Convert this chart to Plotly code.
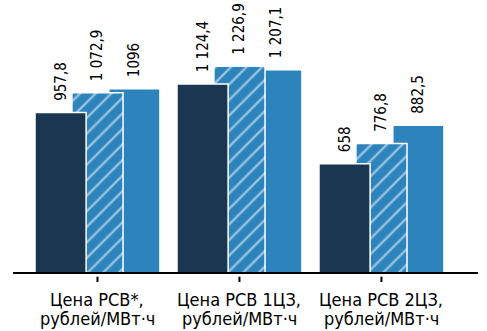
import plotly.graph_objects as go

categories = ["Цена РСВ*", "Цена РСВ 1ЦЗ", "Цена РСВ 2ЦЗ"]
label_line1 = ["Цена РСВ*,", "Цена РСВ 1ЦЗ,", "Цена РСВ 2ЦЗ,"]
label_line2 = ["рублей/МВт·ч", "рублей/МВт·ч", "рублей/МВт·ч"]

series_a = [957.8, 1124.4, 658.0]      # dark
series_b = [1072.9, 1226.9, 776.8]     # hatched
series_c = [1096.0, 1207.1, 882.5]     # solid blue

labels_a = ["957,8", "1 124,4", "658"]
labels_b = ["1 072,9", "1 226,9", "776,8"]
labels_c = ["1096", "1 207,1", "882,5"]

DARK = "#1b3650"
BLUE = "#2d84bd"
FONT = "Liberation Sans Narrow, DejaVu Sans Condensed, Arial Narrow, sans-serif"

W = 0.36
PAD = "\u00a0\u00a0"

def bar(vals, labels, color, offset, pattern=None):
    marker = dict(color=color, line=dict(color="white", width=1.5))
    if pattern:
        marker["pattern"] = pattern
    return go.Bar(
        x=categories, y=vals, width=W, offset=offset,
        marker=marker,
        text=[PAD + t for t in labels], textposition="outside", textangle=-90,
        textfont=dict(family=FONT, size=15, color="black"),
        cliponaxis=False, constraintext="none", showlegend=False,
        hoverinfo="skip",
    )

fig = go.Figure()
# order: solid behind, hatched middle, dark front
fig.add_trace(bar(series_c, labels_c, BLUE, 0.08))
fig.add_trace(bar(series_b, labels_b, BLUE, -0.18,
                  pattern=dict(shape="/", fgcolor="white", bgcolor=BLUE,
                               size=11, solidity=0.22, fillmode="overlay")))
fig.add_trace(bar(series_a, labels_a, DARK, -0.44))

xr = [-0.595, 2.68]
# small category tick marks (paper coords derived from the category axis range)
tick_shapes = [dict(type="line", xref="paper", yref="paper",
                    x0=(i - xr[0]) / (xr[1] - xr[0]),
                    x1=(i - xr[0]) / (xr[1] - xr[0]),
                    y0=-0.0176, y1=-0.0375,
                    line=dict(color="black", width=2))
               for i in range(len(categories))]

fig.update_layout(
    width=487, height=331,
    margin=dict(l=13, r=9, t=5, b=59),
    paper_bgcolor="white", plot_bgcolor="white",
    barmode="overlay",
    xaxis=dict(type="category", range=xr, showline=True, linecolor="black",
               linewidth=2, showticklabels=False, ticks="",
               showgrid=False, zeroline=False),
    yaxis=dict(range=[26, 1585], visible=False,
               showgrid=False, zeroline=False),
    font=dict(family=FONT),
    shapes=tick_shapes,
)

for i, c in enumerate(categories):
    fig.add_annotation(x=c, y=0, xref="x", yref="paper", text=label_line1[i],
                       showarrow=False, yanchor="middle", yshift=-27,
                       font=dict(family=FONT, size=18, color="black"))
    fig.add_annotation(x=c, y=0, xref="x", yref="paper", text=label_line2[i],
                       showarrow=False, yanchor="middle", yshift=-46,
                       font=dict(family=FONT, size=18, color="black"))

fig.write_html("out.html", config={"displayModeBar": False},
               post_script="document.body.style.margin='0px';")
